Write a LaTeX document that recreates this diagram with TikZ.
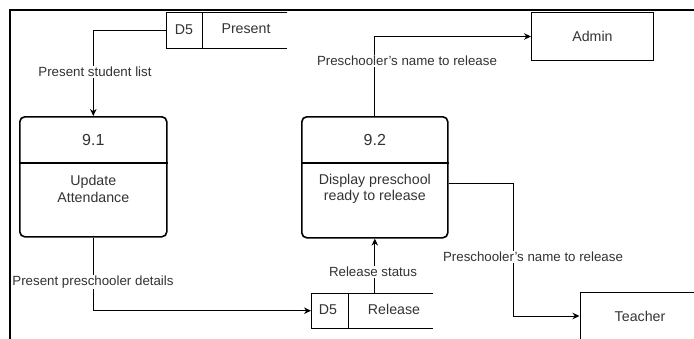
\documentclass[tikz,border=0pt]{standalone}
\usepackage{fontspec}
\setmainfont{Liberation Sans}
\usetikzlibrary{arrows.meta}
\definecolor{txt}{HTML}{333333}
\begin{document}
\begin{tikzpicture}[x=1pt,y=-1pt,
  every node/.style={font=\fontsize{14.2}{16.5}\selectfont, text=txt},
  proc/.style={draw, line width=1.6pt, rounded corners=5pt, inner sep=0pt},
  ent/.style={draw, line width=1pt, inner sep=0pt},
  store/.style={inner sep=0pt},
  ln/.style={line width=1pt},
  pid/.style={font=\fontsize{16}{18}\selectfont},
  flow/.style={draw, line width=1pt, -{Stealth[length=7pt,width=6.5pt]}},
  lbl/.style={fill=white, inner sep=1pt, font=\fontsize{13.3}{15}\selectfont}]
\useasboundingbox (0,0) rectangle (694,338);
\begin{scope}
\clip (0,0) rectangle (694,338);
% frame
\draw[line width=1.6pt] (10,340) -- (10,10) -- (696,10);

% processes
\node[proc, minimum width=147pt, minimum height=120pt, anchor=north west] (p1) at (19,116) {};
\draw[line width=1.6pt] (p1.west |- 0,163) -- (p1.east |- 0,163);
\node[pid] (p1id) at (p1.center |- 0,140) {9.1};
\node[align=center] (p1t) at (p1.center |- 0,189) {Update\\Attendance};

\node[proc, minimum width=146pt, minimum height=121pt, anchor=north west] (p2) at (301,116) {};
\draw[line width=1.6pt] (p2.west |- 0,163) -- (p2.east |- 0,163);
\node[pid] (p2id) at (p2.center |- 0,140) {9.2};
\node[align=center] (p2t) at (p2.center |- 0,189) {Display preschool\\ready to release};

% entities
\node[ent, minimum width=122pt, minimum height=48pt, anchor=north west] (admin) at (531,12) {Admin};
\node[ent, minimum width=120pt, minimum height=48pt] (teacher) at (640,316) {Teacher};

% data stores
\node[store, minimum width=121pt, minimum height=36pt, anchor=north west] (s1) at (166,12) {};
\draw[ln] (s1.north east) -- (s1.north west) -- (s1.south west) -- (s1.south east);
\draw[ln] (202,12) -- (202,48);
\node (s1id) at (184,30) {D5};
\node (s1n) at (246,29) {Present};

\node[store, minimum width=122pt, minimum height=35pt, anchor=north west] (s2) at (311,293) {};
\draw[ln] (s2.north east) -- (s2.north west) -- (s2.south west) -- (s2.south east);
\draw[ln] (348,293) -- (348,328);
\node (s2id) at (328,310) {D5};
\node (s2n) at (394,309) {Release};

% flows
\draw[flow] (s1.west) -| (p1.north);
\node[lbl] (l1) at (95,72) {Present student list};

\draw[flow] (p1.south) |- (s2.west);
\node[lbl] (l2) at (93,282) {Present preschooler details};

\draw[flow] (p2.south |- s2.north) -- (p2.south);
\node[lbl] (l3) at (373,272) {Release status};

\draw[flow] (p2.north) |- (admin.west);
\node[lbl] (l4) at (407,61) {Preschooler's name to release};

\coordinate (bend) at (513,183);
\draw[flow] (p2.east |- bend) -- (bend) |- (teacher.west);
\node[lbl] (l5) at (533,257) {Preschooler's name to release};
\end{scope}
\end{tikzpicture}
\end{document}
